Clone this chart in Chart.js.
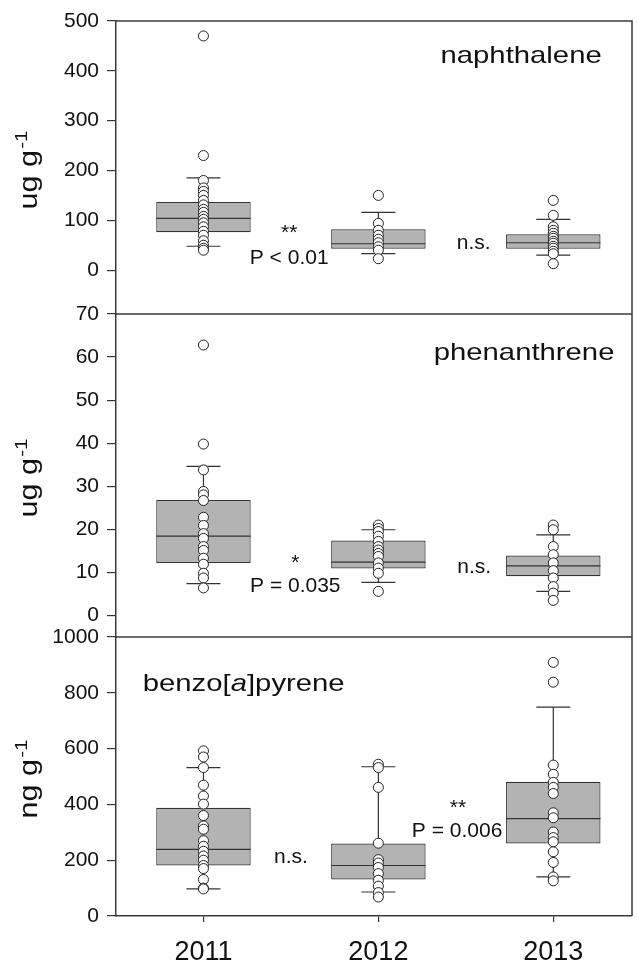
<!DOCTYPE html>
<html>
<head>
<meta charset="utf-8">
<script src="https://cdn.jsdelivr.net/npm/chart.js@4.4.1/dist/chart.umd.min.js"></script>
<style>
  html, body { margin: 0; padding: 0; background: #fff; }
  #wrap { width: 638px; height: 967px; }
</style>
</head>
<body>
<div id="wrap"><canvas id="chart"></canvas></div>
<script>
const years = ['2011', '2012', '2013'];

// naphthalene, ug g-1
const naphQ1 = [76, 43, 43];
const naphMed = [104, 53, 55];
const naphQ3 = [137, 82, 72];
const naphLo = [48, 33, 30];
const naphHi = [185, 116, 102];
const naphPoints = [
    [470, 230, 180, 165, 158, 150, 140, 131, 122, 116, 108, 102, 95, 87, 78, 70, 59, 50, 44, 40],
    [150, 94, 80, 70, 62, 55, 47, 40, 23],
    [140, 110, 87, 80, 74, 68, 64, 58, 54, 48, 44, 38, 33, 13]
];
const naphTicks = [0, 100, 200, 300, 400, 500];

// phenanthrene, ug g-1
const phenQ1 = [12.2, 10.9, 9.1];
const phenMed = [18.4, 12.4, 11.5];
const phenQ3 = [26.8, 17.4, 13.9];
const phenLo = [7.4, 7.7, 5.6];
const phenHi = [34.6, 19.9, 18.7];
const phenPoints = [
    [62.8, 39.8, 33.8, 28.8, 28, 26.7, 22.8, 20.9, 19, 17.9, 16, 15.1, 13.3, 11.9, 9.8, 8.7, 6.4],
    [21, 20.2, 19.5, 18.4, 17.2, 16, 15.2, 14.4, 13.7, 12.2, 11, 9.8, 5.6],
    [21, 19.9, 16, 14.1, 12.2, 10.4, 8.7, 6.7, 5.2, 3.5]
];
const phenTicks = [0, 10, 20, 30, 40, 50, 60, 70];

// benzo[a]pyrene, ng g-1
const bapQ1 = [181, 131, 260];
const bapMed = [239, 181, 349];
const bapQ3 = [388, 260, 481];
const bapLo = [97, 86, 140];
const bapHi = [532, 535, 749];
const bapPoints = [
    [592, 570, 532, 469, 430, 401, 360, 323, 311, 270, 250, 232, 215, 200, 181, 170, 131, 100, 97],
    [544, 532, 461, 261, 202, 190, 174, 152, 128, 107, 84, 68],
    [909, 838, 541, 508, 479, 461, 439, 370, 352, 301, 281, 266, 230, 192, 140, 126]
];
const bapTicks = [0, 200, 400, 600, 800, 1000];

const FONT = '"Liberation Sans", Arial, sans-serif';
const INK = '#111';
const LINE = '#333';

Chart.defaults.font.family = FONT;
Chart.defaults.color = INK;

function boxSet(axis, q1, q3, med, lo, hi) {
    return {
        type: 'bar',
        yAxisID: axis,
        data: years.map((_, i) => ({ x: i, y: [q1[i], q3[i]] })),
        medians: med,
        lows: lo,
        highs: hi,
        q1: q1,
        q3: q3,
        backgroundColor: '#b3b3b3',
        borderColor: LINE,
        borderWidth: 1.2,
        borderSkipped: false,
        grouped: false,
        barPercentage: 0.54,
        categoryPercentage: 1,
        order: 2
    };
}

function pointSet(axis, pts) {
    return {
        type: 'scatter',
        yAxisID: axis,
        data: pts.flatMap((arr, i) => arr.map(v => ({ x: i, y: v }))),
        backgroundColor: '#fff',
        borderColor: '#222',
        borderWidth: 1,
        pointRadius: 5,
        order: 0
    };
}

// y-axis titles and annotation texts
const axisTitles = { yN: 'ug g', yP: 'ug g', yB: 'ng g' };
const notes = [
    { axis: 'yN', x: 0.49, y: 62, text: '**' },
    { axis: 'yN', x: 0.49, y: 13, text: 'P < 0.01' },
    { axis: 'yN', x: 1.545, y: 43, text: 'n.s.' },
    { axis: 'yP', x: 0.525, y: 10.9, text: '*' },
    { axis: 'yP', x: 0.525, y: 5.5, text: 'P = 0.035' },
    { axis: 'yP', x: 1.548, y: 9.8, text: 'n.s.' },
    { axis: 'yB', x: 0.5, y: 191, text: 'n.s.' },
    { axis: 'yB', x: 1.455, y: 365, text: '**' },
    { axis: 'yB', x: 1.45, y: 283, text: 'P = 0.006' }
];
const names = [
    { axis: 'yN', x: 1.816, y: 415, parts: [['naphthalene', false]], align: 'center' },
    { axis: 'yP', x: 1.833, y: 59.3, parts: [['phenanthrene', false]], align: 'center' },
    { axis: 'yB', x: -0.347, y: 806, parts: [['benzo[', false], ['a', true], [']pyrene', false]], align: 'left' }
];

const boxPlugin = {
    id: 'boxParts',
    afterDatasetDraw(chart, args) {
        const ds = chart.data.datasets[args.index];
        if (!ds.medians) return;
        const ctx = chart.ctx;
        const yScale = chart.scales[ds.yAxisID];
        ctx.save();
        ctx.strokeStyle = LINE;
        ctx.lineWidth = 1.2;
        args.meta.data.forEach((bar, j) => {
            const half = bar.width / 2;
            const cap = bar.width * 0.18;
            const ym = yScale.getPixelForValue(ds.medians[j]);
            const yq1 = yScale.getPixelForValue(ds.q1[j]);
            const yq3 = yScale.getPixelForValue(ds.q3[j]);
            const ylo = yScale.getPixelForValue(ds.lows[j]);
            const yhi = yScale.getPixelForValue(ds.highs[j]);
            ctx.beginPath();
            ctx.moveTo(bar.x - half, ym); ctx.lineTo(bar.x + half, ym);
            ctx.moveTo(bar.x, yq3); ctx.lineTo(bar.x, yhi);
            ctx.moveTo(bar.x - cap, yhi); ctx.lineTo(bar.x + cap, yhi);
            ctx.moveTo(bar.x, yq1); ctx.lineTo(bar.x, ylo);
            ctx.moveTo(bar.x - cap, ylo); ctx.lineTo(bar.x + cap, ylo);
            ctx.stroke();
        });
        ctx.restore();
    }
};

const framePlugin = {
    id: 'frame',
    afterDraw(chart) {
        const { ctx, chartArea } = chart;
        const xs = chart.scales.x;
        ctx.save();
        ctx.strokeStyle = '#3a3a3a';
        ctx.lineWidth = 1.5;
        ctx.beginPath();
        ctx.moveTo(chartArea.left, chartArea.top); ctx.lineTo(chartArea.right, chartArea.top);
        ctx.lineTo(chartArea.right, chartArea.bottom);
        ['yP', 'yB'].forEach(id => {
            const t = chart.scales[id].top;
            ctx.moveTo(chartArea.left, t); ctx.lineTo(chartArea.right, t);
        });
        ctx.stroke();

        // y-axis titles with superscript
        ['yN', 'yP', 'yB'].forEach(id => {
            const s = chart.scales[id];
            const cy = (s.top + s.bottom) / 2 + 3;
            ctx.save();
            ctx.translate(37, cy);
            ctx.rotate(-Math.PI / 2);
            ctx.scale(1.22, 1);
            ctx.fillStyle = INK;
            ctx.textBaseline = 'alphabetic';
            ctx.textAlign = 'left';
            ctx.font = '25px ' + FONT;
            const main = axisTitles[id];
            const wm = ctx.measureText(main).width;
            ctx.font = '17px ' + FONT;
            const ws = ctx.measureText('-1').width;
            const x0 = -(wm + ws) / 2;
            ctx.font = '25px ' + FONT;
            ctx.fillText(main, x0, 0);
            ctx.font = '17px ' + FONT;
            ctx.fillText('-1', x0 + wm + 1, -10);
            ctx.restore();
        });

        // annotations
        ctx.fillStyle = INK;
        ctx.textBaseline = 'alphabetic';
        ctx.textAlign = 'center';
        ctx.font = '21px ' + FONT;
        notes.forEach(n => {
            const ys = chart.scales[n.axis];
            ctx.fillText(n.text, xs.getPixelForValue(n.x), ys.getPixelForValue(n.y));
        });

        // compound names
        names.forEach(n => {
            const ys = chart.scales[n.axis];
            const px = xs.getPixelForValue(n.x);
            const py = ys.getPixelForValue(n.y);
            ctx.save();
            ctx.translate(px, py);
            ctx.scale(1.22, 1);
            ctx.textAlign = 'left';
            let total = 0;
            n.parts.forEach(([t, it]) => {
                ctx.font = (it ? 'italic ' : '') + '24px ' + FONT;
                total += ctx.measureText(t).width;
            });
            let cx = n.align === 'center' ? -total / 2 : 0;
            n.parts.forEach(([t, it]) => {
                ctx.font = (it ? 'italic ' : '') + '24px ' + FONT;
                ctx.fillText(t, cx, 0);
                cx += ctx.measureText(t).width;
            });
            ctx.restore();
        });
        ctx.restore();
    }
};

function yAxis(tickList, min, max, weight) {
    return {
        type: 'linear',
        position: 'left',
        stack: 'panels',
        stackWeight: weight,
        min: min,
        max: max,
        afterBuildTicks: s => { s.ticks = tickList.map(v => ({ value: v })); },
        afterFit: s => { s.width = 80; },
        ticks: { font: { size: 21 }, color: INK, padding: 8, autoSkip: false, callback: v => String(v) },
        grid: { display: true, drawOnChartArea: false, drawTicks: true, tickLength: 9, color: LINE, lineWidth: 1.2 },
        border: { display: true, color: '#3a3a3a', width: 1.5 }
    };
}

const ctx = document.getElementById('chart').getContext('2d');
const chart = new Chart(ctx, {
    type: 'bar',
    data: {
        datasets: [
            boxSet('yN', naphQ1, naphQ3, naphMed, naphLo, naphHi),
            boxSet('yP', phenQ1, phenQ3, phenMed, phenLo, phenHi),
            boxSet('yB', bapQ1, bapQ3, bapMed, bapLo, bapHi),
            pointSet('yN', naphPoints),
            pointSet('yP', phenPoints),
            pointSet('yB', bapPoints)
        ]
    },
    options: {
        responsive: true,
        maintainAspectRatio: false,
        animation: false,
        events: [],
        layout: { padding: { left: 36, right: 1, top: 21, bottom: 0 } },
        plugins: {
            legend: { display: false },
            tooltip: { enabled: false }
        },
        scales: {
            x: {
                type: 'linear',
                min: -0.5,
                max: 2.45,
                offset: false,
                afterBuildTicks: s => { s.ticks = years.map((_, i) => ({ value: i })); },
                afterFit: s => { s.height = 51; },
                ticks: { callback: v => years[v], font: { size: 27 }, color: INK, padding: 14, maxRotation: 0, autoSkip: false },
                grid: { display: true, offset: false, drawOnChartArea: false, drawTicks: true, tickLength: 6, color: LINE, lineWidth: 1.2 },
                border: { display: true, color: '#3a3a3a', width: 1.5 }
            },
            yB: yAxis(bapTicks, 0, 1000, 279),
            yP: yAxis(phenTicks, -5, 70, 323),
            yN: yAxis(naphTicks, -88, 500, 293)
        }
    },
    plugins: [boxPlugin, framePlugin]
});
</script>
</body>
</html>
